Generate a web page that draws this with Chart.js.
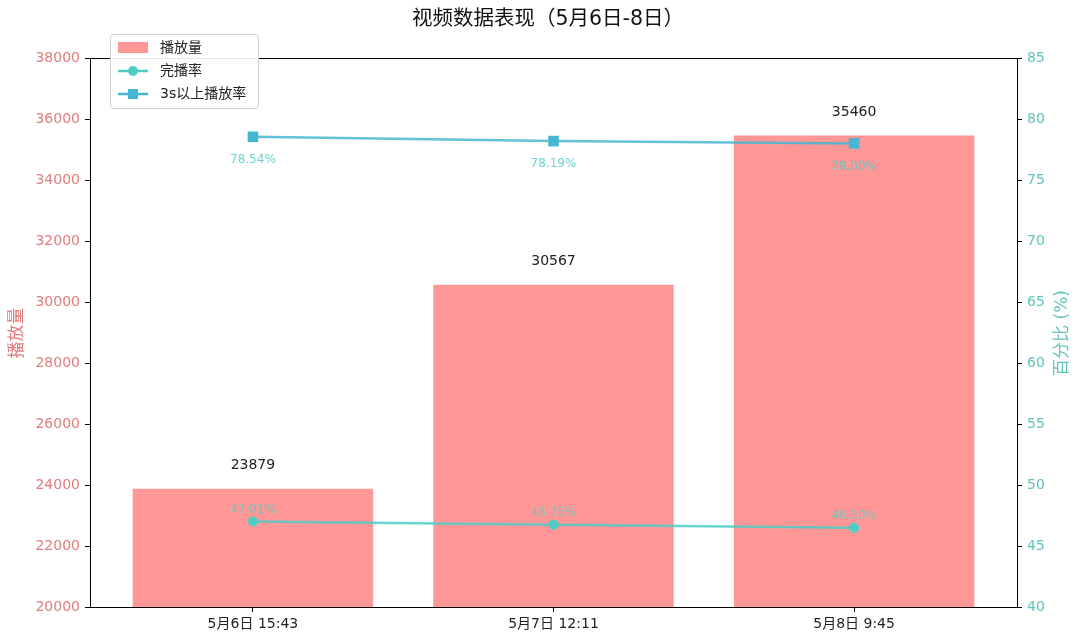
<!DOCTYPE html>
<html>
<head>
<meta charset="utf-8">
<script src="https://cdn.jsdelivr.net/npm/chart.js@4/dist/chart.umd.min.js"></script>
<style>
  html, body { margin: 0; padding: 0; background: #fff; }
  #wrap { width: 1080px; height: 643px; }
</style>
</head>
<body>
<div id="wrap"><canvas id="chart" width="1080" height="643"></canvas></div>
<script>
const categorias = ["5月6日 15:43", "5月7日 12:11", "5月8日 9:45"]
const playCount = [23879, 30567, 35460]
const finishRate = [47.01, 46.75, 46.50]
const rate3s = [78.54, 78.19, 78.00]
const leftTicks = [20000, 38000, 2000]
const rightTicks = [40, 85, 5]

const FONT = "'DejaVu Sans', 'Noto Sans CJK SC', sans-serif"
const BAR = "rgba(255, 107, 107, 0.7)"
const TEAL = "#4ECDC4"
const BLUE = "#45B7D1"

function pontos(valores) {
  return valores.map((v, i) => ({ x: i, y: v }))
}

// legenda, títulos e rótulos desenhados à mão
const extras = {
  id: "extras",
  afterDatasetsDraw(chart) {
    const ctx = chart.ctx
    const area = chart.chartArea
    ctx.save()

    // moldura completa
    ctx.strokeStyle = "#000"
    ctx.lineWidth = 1
    ctx.strokeRect(area.left + 0.5, area.top + 0.5, area.right - area.left, area.bottom - area.top)

    // valores das barras
    ctx.font = "14px " + FONT
    ctx.fillStyle = "#222"
    ctx.textAlign = "center"
    ctx.textBaseline = "middle"
    chart.getDatasetMeta(0).data.forEach((bar, i) => {
      ctx.fillText(String(playCount[i]), bar.x, bar.y - 23)
    })

    // percentuais
    ctx.font = "12px " + FONT
    chart.getDatasetMeta(1).data.forEach((p, i) => {
      ctx.fillStyle = "rgba(78, 205, 196, 0.7)"
      ctx.fillText(finishRate[i].toFixed(2) + "%", p.x, p.y - 12)
    })
    chart.getDatasetMeta(2).data.forEach((p, i) => {
      ctx.fillStyle = "rgba(78, 205, 196, 0.85)"
      ctx.fillText(rate3s[i].toFixed(2) + "%", p.x, p.y + 23)
    })

    // título
    ctx.fillStyle = "#111"
    ctx.font = "20.5px " + FONT
    ctx.fillText("视频数据表现（5月6日-8日）", 548, 20)

    // títulos dos eixos
    ctx.font = "17px " + FONT
    ctx.fillStyle = "#E07A7A"
    ctx.save()
    ctx.translate(18, 333)
    ctx.rotate(-Math.PI / 2)
    ctx.fillText("播放量", 0, 0)
    ctx.restore()
    ctx.fillStyle = "#62C4BD"
    ctx.save()
    ctx.translate(1063, 333)
    ctx.rotate(-Math.PI / 2)
    ctx.fillText("百分比 (%)", 0, 0)
    ctx.restore()

    // legenda
    const lx = 110, ly = 34, lw = 148, lh = 74
    ctx.fillStyle = "rgba(255,255,255,0.9)"
    ctx.strokeStyle = "#d0d0d0"
    ctx.beginPath()
    ctx.roundRect(lx + 0.5, ly + 0.5, lw, lh, 3)
    ctx.fill()
    ctx.stroke()

    ctx.font = "14px " + FONT
    ctx.textAlign = "left"
    ctx.fillStyle = BAR
    ctx.fillRect(118, 42, 30, 11)
    ctx.fillStyle = "#222"
    ctx.fillText("播放量", 160, 48)

    ctx.strokeStyle = TEAL
    ctx.lineWidth = 2.5
    ctx.beginPath(); ctx.moveTo(118, 71); ctx.lineTo(148, 71); ctx.stroke()
    ctx.fillStyle = TEAL
    ctx.beginPath(); ctx.arc(133, 71, 5, 0, Math.PI * 2); ctx.fill()
    ctx.fillStyle = "#222"
    ctx.fillText("完播率", 160, 71)

    ctx.strokeStyle = BLUE
    ctx.beginPath(); ctx.moveTo(118, 94); ctx.lineTo(148, 94); ctx.stroke()
    ctx.fillStyle = BLUE
    ctx.fillRect(128, 89, 10, 10)
    ctx.fillStyle = "#222"
    ctx.fillText("3s以上播放率", 160, 94)

    ctx.restore()
  }
}

new Chart(document.getElementById("chart"), {
  type: "bar",
  data: {
    datasets: [
      {
        type: "bar",
        label: "播放量",
        data: pontos(playCount),
        backgroundColor: BAR,
        borderWidth: 0,
        barPercentage: 0.8,
        categoryPercentage: 1.0,
        yAxisID: "y",
        order: 2
      },
      {
        type: "line",
        label: "完播率",
        data: pontos(finishRate),
        borderColor: "rgba(78, 205, 196, 0.85)",
        backgroundColor: TEAL,
        borderWidth: 2.5,
        pointStyle: "circle",
        pointRadius: 5,
        pointBorderWidth: 0,
        tension: 0,
        yAxisID: "y1",
        order: 1
      },
      {
        type: "line",
        label: "3s以上播放率",
        data: pontos(rate3s),
        borderColor: "rgba(69, 183, 209, 0.85)",
        backgroundColor: BLUE,
        borderWidth: 2.5,
        pointStyle: "rect",
        pointRadius: 7.5,
        pointBorderWidth: 0,
        tension: 0,
        yAxisID: "y1",
        order: 1
      }
    ]
  },
  options: {
    responsive: false,
    animation: false,
    devicePixelRatio: 1,
    layout: { padding: { top: 58, left: 0, right: 0, bottom: 0 } },
    plugins: {
      legend: { display: false },
      title: { display: false },
      tooltip: { enabled: false }
    },
    scales: {
      x: {
        type: "linear",
        min: -0.542,
        max: 2.542,
        offset: false,
        afterBuildTicks: s => { s.ticks = categorias.map((c, i) => ({ value: i })) },
        afterFit: s => { s.height = 36 },
        ticks: {
          callback: v => categorias[v],
          color: "#222",
          font: { size: 14, family: FONT },
          padding: 4,
          maxRotation: 0
        },
        grid: { drawOnChartArea: false, tickLength: 5, tickColor: "#000", offset: false },
        border: { color: "#000" }
      },
      y: {
        position: "left",
        min: leftTicks[0],
        max: leftTicks[1],
        afterFit: s => { s.width = 90 },
        ticks: {
          stepSize: leftTicks[2],
          callback: v => String(v),
          color: "#E07C7C",
          font: { size: 14, family: FONT },
          padding: 5
        },
        grid: { drawOnChartArea: false, tickLength: 5, tickColor: "#000" },
        border: { color: "#000" }
      },
      y1: {
        position: "right",
        min: rightTicks[0],
        max: rightTicks[1],
        afterFit: s => { s.width = 63 },
        ticks: {
          stepSize: rightTicks[2],
          callback: v => String(v),
          color: "#62C4BD",
          font: { size: 14, family: FONT },
          padding: 5
        },
        grid: { drawOnChartArea: false, tickLength: 5, tickColor: "#000" },
        border: { color: "#000" }
      }
    }
  },
  plugins: [extras]
})
</script>
</body>
</html>
